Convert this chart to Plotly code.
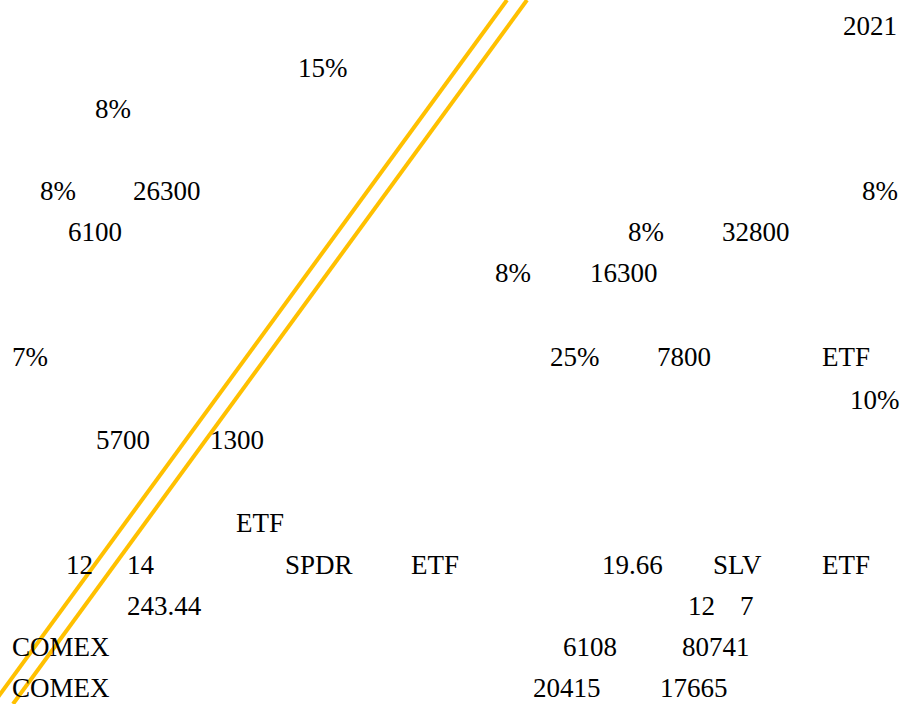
import plotly.graph_objects as go

# text fragments as they appear on the page (row by row)
labels = ["2021",
          "15%",
          "8%",
          "8%", "26300", "8%",
          "6100", "8%", "32800",
          "8%", "16300",
          "7%", "25%", "7800", "ETF",
          "10%",
          "5700", "1300",
          "ETF",
          "12", "14", "SPDR", "ETF", "19.66", "SLV", "ETF",
          "243.44", "12", "7",
          "COMEX", "6108", "80741",
          "COMEX", "20415", "17665"]

label_x = [843,
           298,
           95,
           40, 133, 862,
           68, 628, 722,
           495, 590,
           12, 550, 657, 822,
           850,
           96, 210,
           236,
           66, 127, 285, 411, 602, 713, 822,
           127, 688, 740,
           12, 563, 682,
           12, 533, 660]

label_y = [25,
           67,
           108,
           190, 190, 190,
           231, 231, 231,
           272, 272,
           356, 356, 356, 356,
           399,
           439, 439,
           522,
           564, 564, 564, 564, 564, 564, 564,
           605, 605, 605,
           646, 646, 646,
           687, 687, 687]

# the two yellow strokes across the page
stroke_x = [[507, -7], [527, 13]]
stroke_y = [[0, 704], [0, 704]]

W, H = 909, 704

fig = go.Figure()

for sx, sy in zip(stroke_x, stroke_y):
    fig.add_trace(go.Scatter(
        x=sx, y=sy, mode='lines',
        line=dict(color='#FFC000', width=4),
        hoverinfo='skip', showlegend=False
    ))

for txt, x, y in zip(labels, label_x, label_y):
    fig.add_annotation(
        x=x - 2, y=y + 1, xref='x', yref='y',
        text=txt, showarrow=False,
        xanchor='left', yanchor='middle',
        font=dict(family='Liberation Serif, Times New Roman, serif', size=27, color='#000000')
    )

fig.update_xaxes(range=[0, W], visible=False, fixedrange=True)
fig.update_yaxes(range=[H, 0], visible=False, fixedrange=True)

fig.update_layout(
    width=W, height=H,
    margin=dict(l=0, r=0, t=0, b=0),
    paper_bgcolor='white',
    plot_bgcolor='white',
    showlegend=False
)

# drop the browser's default page margin so the figure sits at 0,0
fig.write_html("out.html", config={'displayModeBar': False},
               post_script="document.body.style.margin='0';document.body.style.overflow='hidden';")
